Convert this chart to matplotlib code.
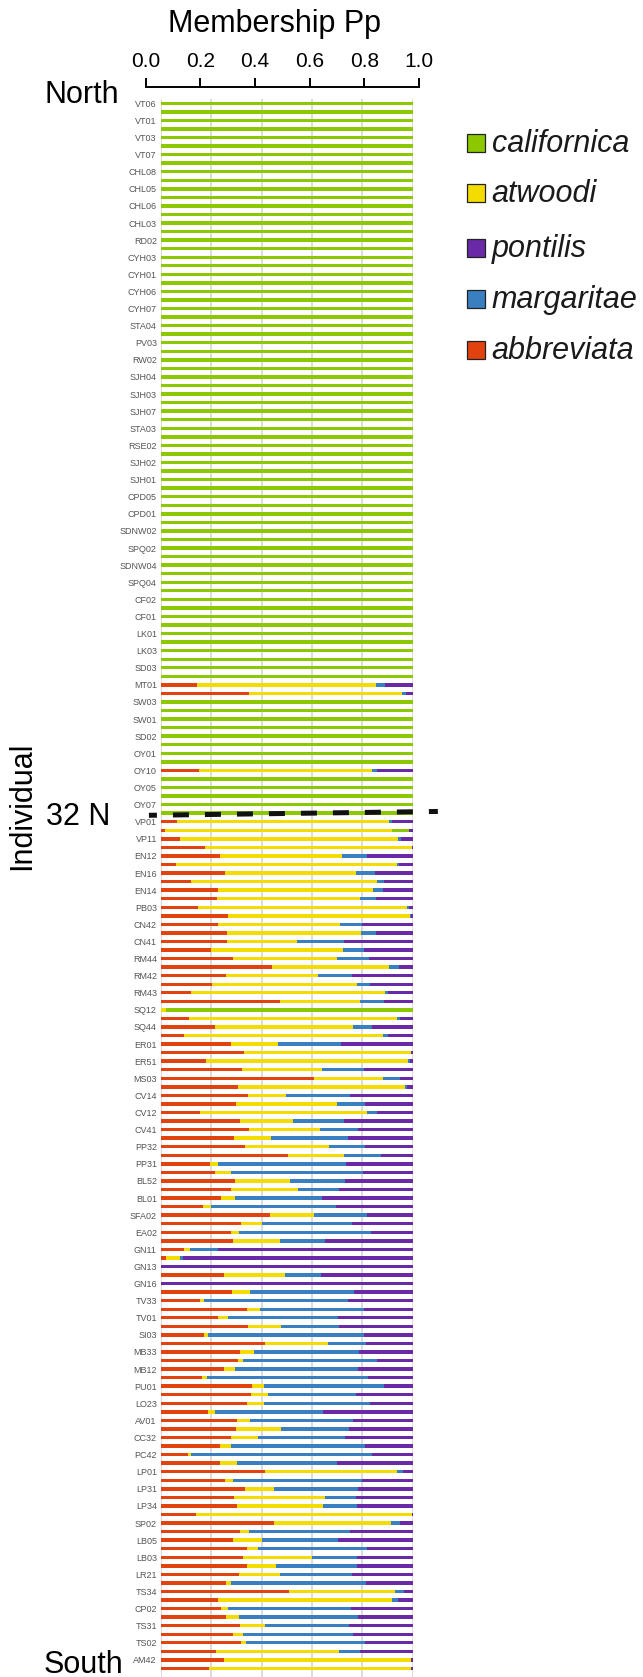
"""Structure plot: membership Pp per individual, north to south."""

import numpy as np
import matplotlib

matplotlib.use("Agg")
import matplotlib.pyplot as plt
from matplotlib.patches import Rectangle

plt.rcParams["font.family"] = ["Liberation Sans", "DejaVu Sans"]

# individuals labelled on every other bar, north -> south
names = [
    "VT06", "VT01", "VT03", "VT07", "CHL08", "CHL05", "CHL06", "CHL03", "RD02", "CYH03",
    "CYH01", "CYH06", "CYH07", "STA04", "PV03", "RW02", "SJH04", "SJH03", "SJH07", "STA03",
    "RSE02", "SJH02", "SJH01", "CPD05", "CPD01", "SDNW02", "SPQ02", "SDNW04", "SPQ04", "CF02",
    "CF01", "LK01", "LK03", "SD03", "MT01", "SW03", "SW01", "SD02", "OY01", "OY10",
    "OY05", "OY07",
    "VP01", "VP11", "EN12", "EN16", "EN14", "PB03", "CN42", "CN41", "RM44", "RM42",
    "RM43", "SQ12", "SQ44", "ER01", "ER51", "MS03", "CV14", "CV12", "CV41", "PP32",
    "PP31", "BL52", "BL01", "SFA02", "EA02", "GN11", "GN13", "GN16", "TV33", "TV01",
    "SI03", "MB33", "MB12", "PU01", "LO23", "AV01", "CC32", "PC42", "LP01", "LP31",
    "LP34", "SP02", "LB05", "LB03", "LR21", "TS34", "CP02", "TS31", "TS02", "AM42",
]

legend_order = ["californica", "atwoodi", "pontilis", "margaritae", "abbreviata"]
stack_order = ["abbreviata", "atwoodi", "margaritae", "californica", "pontilis"]
colors = {
    "californica": "#8cc800",
    "atwoodi": "#f5dc00",
    "pontilis": "#6a2aa8",
    "margaritae": "#3a7fc0",
    "abbreviata": "#e2420e",
}

# membership per bar (184 bars); first 84 bars are north of 32 N
abbreviata = [0.0] * 68 + [0.143, 0.351] + [0.0] * 8 + [0.151] + [0.0] * 5 + [
    0.064, 0.016, 0.075, 0.175, 0.234, 0.060, 0.254, 0.121, 0.226, 0.223,
    0.146, 0.266, 0.226, 0.264, 0.262, 0.199, 0.287, 0.442, 0.258, 0.203,
    0.119, 0.473, 0.000, 0.113, 0.215, 0.091, 0.278, 0.331, 0.179, 0.322,
    0.608, 0.306, 0.347, 0.297, 0.155, 0.314, 0.350, 0.291, 0.334, 0.503,
    0.195, 0.216, 0.294, 0.278, 0.238, 0.168, 0.433, 0.319, 0.278, 0.286,
    0.093, 0.020, 0.000, 0.250, 0.000, 0.283, 0.155, 0.342, 0.226, 0.346,
    0.171, 0.415, 0.314, 0.306, 0.250, 0.162, 0.362, 0.358, 0.342, 0.188,
    0.303, 0.298, 0.278, 0.234, 0.109, 0.234, 0.413, 0.254, 0.334, 0.290,
    0.302, 0.139, 0.450, 0.313, 0.287, 0.343, 0.327, 0.342, 0.311, 0.260,
    0.509, 0.226, 0.240, 0.260, 0.314, 0.286, 0.318, 0.219, 0.250, 0.191,
]
atwoodi = [0.0] * 68 + [0.711, 0.605] + [0.0] * 8 + [0.686] + [0.0] * 5 + [
    0.843, 0.902, 0.867, 0.822, 0.487, 0.879, 0.520, 0.739, 0.615, 0.569,
    0.833, 0.723, 0.484, 0.531, 0.277, 0.526, 0.412, 0.465, 0.365, 0.574,
    0.770, 0.318, 0.020, 0.825, 0.549, 0.792, 0.188, 0.664, 0.804, 0.319,
    0.275, 0.665, 0.150, 0.401, 0.664, 0.209, 0.282, 0.146, 0.332, 0.224,
    0.030, 0.061, 0.217, 0.265, 0.056, 0.031, 0.174, 0.082, 0.032, 0.186,
    0.022, 0.055, 0.000, 0.241, 0.000, 0.072, 0.017, 0.051, 0.039, 0.131,
    0.014, 0.250, 0.054, 0.020, 0.044, 0.021, 0.047, 0.068, 0.066, 0.027,
    0.051, 0.177, 0.107, 0.043, 0.009, 0.069, 0.525, 0.031, 0.114, 0.362,
    0.340, 0.860, 0.465, 0.037, 0.116, 0.042, 0.274, 0.115, 0.162, 0.018,
    0.422, 0.692, 0.026, 0.050, 0.099, 0.039, 0.020, 0.488, 0.745, 0.804,
]
margaritae = [0.0] * 68 + [0.036, 0.018] + [0.0] * 8 + [0.023] + [0.0] * 5 + [
    0.012, 0.000, 0.012, 0.000, 0.096, 0.008, 0.075, 0.026, 0.040, 0.061,
    0.006, 0.006, 0.089, 0.059, 0.189, 0.080, 0.126, 0.037, 0.137, 0.053,
    0.012, 0.095, 0.000, 0.010, 0.073, 0.018, 0.248, 0.000, 0.005, 0.166,
    0.065, 0.005, 0.253, 0.113, 0.041, 0.203, 0.152, 0.305, 0.145, 0.146,
    0.510, 0.526, 0.221, 0.166, 0.347, 0.495, 0.210, 0.357, 0.523, 0.180,
    0.111, 0.011, 0.000, 0.143, 0.000, 0.412, 0.570, 0.412, 0.437, 0.229,
    0.620, 0.148, 0.419, 0.531, 0.487, 0.638, 0.476, 0.348, 0.424, 0.430,
    0.409, 0.271, 0.346, 0.534, 0.720, 0.395, 0.022, 0.515, 0.333, 0.122,
    0.135, 0.000, 0.033, 0.402, 0.300, 0.432, 0.178, 0.320, 0.285, 0.537,
    0.036, 0.022, 0.488, 0.471, 0.334, 0.437, 0.471, 0.084, 0.000, 0.000,
]
californica = [1.0] * 68 + [0.0, 0.0] + [1.0] * 8 + [0.0] + [1.0] * 5 + [
    0.000, 0.066, 0.000, 0.000, 0.000, 0.000, 0.000, 0.000, 0.000, 0.000,
    0.000, 0.000, 0.000, 0.000, 0.000, 0.000, 0.000, 0.000, 0.000, 0.000,
    0.000, 0.000, 0.980, 0.000, 0.000, 0.000, 0.000, 0.000, 0.000, 0.000,
] + [0.0] * 70
pontilis = [0.0] * 68 + [0.110, 0.026] + [0.0] * 8 + [0.140] + [0.0] * 5 + [
    0.081, 0.016, 0.046, 0.003, 0.183, 0.053, 0.151, 0.114, 0.119, 0.147,
    0.015, 0.005, 0.201, 0.146, 0.272, 0.195, 0.175, 0.056, 0.240, 0.170,
    0.099, 0.114, 0.000, 0.052, 0.163, 0.099, 0.286, 0.005, 0.012, 0.193,
    0.052, 0.024, 0.250, 0.189, 0.140, 0.274, 0.216, 0.258, 0.189, 0.127,
    0.265, 0.197, 0.268, 0.291, 0.359, 0.306, 0.183, 0.242, 0.167, 0.348,
    0.774, 0.914, 1.000, 0.366, 1.000, 0.233, 0.258, 0.195, 0.298, 0.294,
    0.195, 0.187, 0.213, 0.143, 0.219, 0.179, 0.115, 0.226, 0.168, 0.355,
    0.237, 0.254, 0.269, 0.189, 0.162, 0.302, 0.040, 0.200, 0.219, 0.226,
    0.223, 0.001, 0.052, 0.248, 0.297, 0.183, 0.221, 0.223, 0.242, 0.185,
    0.033, 0.060, 0.246, 0.219, 0.253, 0.238, 0.191, 0.209, 0.005, 0.005,
]
boundary_row = 83  # last bar north of 32 N
tick_values = [0.0, 0.2, 0.4, 0.6, 0.8, 1.0]

W, H = 643, 1677


def fx(px):
    return px / W


def fy(py):
    return 1 - py / H


def main() -> None:
    data = {
        "abbreviata": abbreviata,
        "atwoodi": atwoodi,
        "margaritae": margaritae,
        "californica": californica,
        "pontilis": pontilis,
    }
    fig = plt.figure(figsize=(W / 100, H / 100), dpi=100)

    ax = fig.add_axes([fx(161), 0, fx(251.7), 1 - 99 / H])
    n = len(abbreviata)
    rows = np.arange(n)
    left = np.zeros(n)
    for key in stack_order:
        vals = np.array(data[key])
        ax.barh(rows, vals, left=left, height=0.4, color=colors[key], linewidth=0, zorder=2)
        left += vals
    ax.set_xlim(0, 1)
    ax.set_ylim(184, -0.5)
    ax.set_xticks(tick_values)
    ax.xaxis.grid(True, color="#d6d6d6", linewidth=1.2, zorder=0)
    ax.set_axisbelow(True)
    ax.tick_params(axis="x", length=0, labelbottom=False)
    ax.set_yticks(np.arange(0, 2 * len(names), 2))
    ax.set_yticklabels(names)
    ax.tick_params(axis="y", length=0, labelsize=6.5, labelcolor="#555555", pad=3)
    for s in ax.spines.values():
        s.set_visible(False)

    # dashed 32 N boundary
    ax.plot([-0.048, 1.1], [boundary_row + 0.25, boundary_row - 0.2], color="#111111",
            linewidth=3.6, linestyle=(1.6, (3.2, 3.2)), clip_on=False, zorder=5)

    # separate membership scale on top
    top = fig.add_axes([fx(145.5), fy(87.3), fx(273.6), 0.0001])
    top.set_xlim(0, 1)
    top.set_xticks(tick_values)
    top.set_xticklabels([f"{t:.1f}" for t in tick_values])
    top.xaxis.tick_top()
    top.tick_params(axis="x", direction="out", length=6.5, width=1.4, labelsize=15, pad=5.2)
    top.set_yticks([])
    for s in ["left", "right", "bottom"]:
        top.spines[s].set_visible(False)
    top.spines["top"].set_linewidth(1.4)
    top.patch.set_visible(False)

    fig.text(fx(274), fy(32.3), "Membership Pp", ha="center", va="baseline", fontsize=22)
    fig.text(fx(82), fy(103.3), "North", ha="center", va="baseline", fontsize=22)
    fig.text(fx(83), fy(1673.3), "South", ha="center", va="baseline", fontsize=22)
    fig.text(fx(78), fy(825), "32 N", ha="center", va="baseline", fontsize=22)
    fig.text(fx(22), fy(806), "Individual", ha="center", va="center", rotation=90, fontsize=22)

    baselines = [152.3, 201.7, 256.7, 307.7, 359.3]
    for key, base in zip(legend_order, baselines):
        fig.add_artist(Rectangle((fx(466.5), fy(base)), fx(18), 18 / H, transform=fig.transFigure,
                                 facecolor=colors[key], edgecolor="#222222", linewidth=0.9))
        fig.text(fx(491.7), fy(base), key, ha="left", va="baseline", fontsize=22,
                 style="italic", color="#1a1a1a")

    fig.savefig("out.png", dpi=100)
    plt.close(fig)


if __name__ == "__main__":
    main()
